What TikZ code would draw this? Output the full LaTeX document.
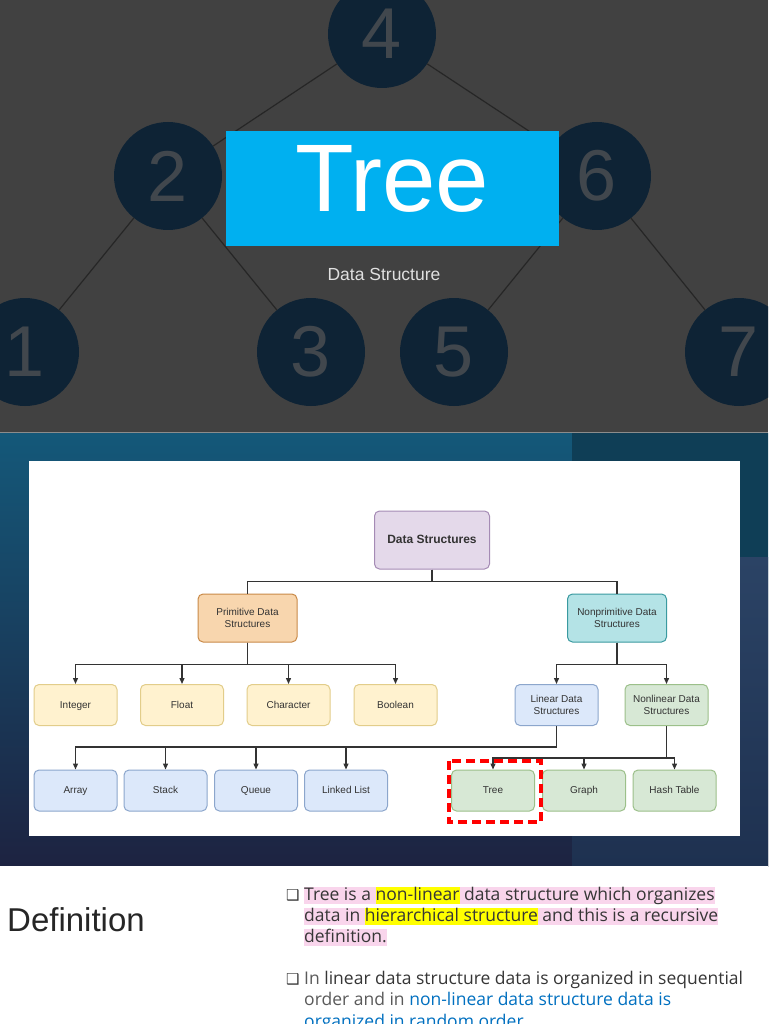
\documentclass[tikz,border=0pt]{standalone}
\usepackage{fontspec}
\setmainfont{Liberation Sans}
\newfontfamily\slidefont{Open Sans}
\newfontfamily\symbolfont{DejaVu Sans}
\usetikzlibrary{arrows.meta, positioning}
\definecolor{slidegrey}{HTML}{414141}
\definecolor{knotfill}{HTML}{0E2335}
\definecolor{knottext}{HTML}{41474D}
\definecolor{titleblue}{HTML}{00B0F0}
\definecolor{bgtop}{HTML}{145879}
\definecolor{bgmid}{HTML}{113B56}
\definecolor{bgbottom}{HTML}{1D2341}
\definecolor{bgright}{HTML}{0F3E56}
\definecolor{bgrighttop}{HTML}{2B4365}
\definecolor{bgrightbottom}{HTML}{1E3150}
\definecolor{purpleline}{HTML}{A58BB5}
\definecolor{purplefill}{HTML}{E4D9EA}
\definecolor{orangeline}{HTML}{C98A48}
\definecolor{orangefill}{HTML}{F8D6AE}
\definecolor{tealline}{HTML}{3A9AA0}
\definecolor{tealfill}{HTML}{B4E3E6}
\definecolor{yellowline}{HTML}{E2CD8A}
\definecolor{yellowfill}{HTML}{FFF2CF}
\definecolor{blueline}{HTML}{8CA6CC}
\definecolor{bluefill}{HTML}{DCE8FA}
\definecolor{greenline}{HTML}{9CC08A}
\definecolor{greenfill}{HTML}{D7E8D5}
\definecolor{cline}{HTML}{333333}
\definecolor{pinkhl}{HTML}{F9D5EC}
\definecolor{yellowhl}{HTML}{FFFF00}
\definecolor{textdark}{HTML}{363636}
\definecolor{textgrey}{HTML}{5A5A5A}
\definecolor{linkblue}{HTML}{0070C0}
\newcommand{\linestrut}{\rule[-4pt]{0pt}{17pt}}
\newcommand{\hl}[1]{{\setlength{\fboxsep}{0pt}\colorbox{yellowhl}{\linestrut#1}}}
\tikzset{
  knot/.style={circle, fill=knotfill, minimum size=108pt, inner sep=0pt, text=knottext, font=\fontsize{72}{72}\selectfont},
  branch/.style={draw=black!85, line width=1.2pt},
  box/.style={draw=#1line, fill=#1fill, rounded corners=5pt, align=center, inner sep=2pt, line width=1pt, font=\fontsize{10}{12}\selectfont, text=black!80},
  leaf/.style={box=#1, minimum width=83pt, minimum height=41pt},
  oneline/.style={text height=7.5pt, text depth=1.5pt},
  group/.style={box=#1, minimum width=99pt, minimum height=48pt},
  link/.style={draw=cline, line width=1.3pt},
  arrow/.style={link, -{Triangle[length=6pt, width=5pt]}},
  treemark/.style={draw=red, line width=3.2pt, dash pattern=on 9pt off 5pt},
  defline/.style={anchor=base west, inner sep=0pt, font=\slidefont\fontsize{17.5}{21}\selectfont, text=textdark},
}

\begin{document}
\begin{tikzpicture}[x=1pt, y=-1pt]
  \useasboundingbox (0,0) rectangle (768,1024);
  \clip (0,0) rectangle (768,1024);
  \fill[slidegrey] (0,0) rectangle (768,432);
  \node[knot] (n4) at (382,34) {4};
  \node[knot] (n2) at (168,176) {2};
  \node[knot] (n6) at (597,176) {6};
  \node[knot] (n1) at (25,352) {1};
  \node[knot] (n3) at (311,352) {3};
  \node[knot] (n5) at (454,352) {5};
  \node[knot] (n7) at (739,352) {7};
  \draw[branch] (n4) -- (n2); \draw[branch] (n4) -- (n6);
  \draw[branch] (n2) -- (n1); \draw[branch] (n2) -- (n3);
  \draw[branch] (n6) -- (n5); \draw[branch] (n6) -- (n7);
  \node[fill=titleblue, inner sep=0pt, minimum width=333pt, text height=81pt, text depth=34pt, text=white, font=\fontsize{96}{96}\selectfont] (title) at (392,188.5) {Tree};
  \node[text=white!88!black, font=\fontsize{17.5}{17.5}\selectfont] (subtitle) at (384,274) {Data Structure};

  \shade[top color=bgtop, middle color=bgmid, bottom color=bgbottom] (0,433) rectangle (768,866);
  \fill[bgright] (572,433) rectangle (768,557);
  \shade[top color=bgrighttop, bottom color=bgrightbottom] (572,557) rectangle (768,866);
  \draw[black!45, line width=1.5pt] (0,432.5) -- (768,432.5);
  \fill[white] (29,461) rectangle (740,836);

  \node[box=purple, oneline, minimum width=115pt, minimum height=58pt, font=\bfseries\fontsize{12}{14}\selectfont] (ds) at (432,540) {Data Structures};
  \node[group=orange] (prim) at (247.5,618) {Primitive Data\\Structures};
  \node[group=teal] (nonprim) at (617,618) {Nonprimitive Data\\Structures};
  \node[leaf=yellow, oneline] (int) at (75.5,705) {Integer};
  \node[leaf=yellow, oneline] (flt) at (182,705) {Float};
  \node[leaf=yellow, oneline] (chr) at (288.5,705) {Character};
  \node[leaf=yellow, oneline] (bool) at (395.5,705) {Boolean};
  \node[leaf=blue] (lin) at (556.5,705) {Linear Data\\Structures};
  \node[leaf=green] (nonlin) at (666.5,705) {Nonlinear Data\\Structures};
  \node[leaf=blue, oneline] (arr) at (75.5,790.5) {Array};
  \node[leaf=blue, oneline] (stk) at (165.5,790.5) {Stack};
  \node[leaf=blue, oneline] (que) at (256,790.5) {Queue};
  \node[leaf=blue, oneline] (llist) at (346,790.5) {Linked List};
  \node[leaf=green, oneline] (tree) at (493,790.5) {Tree};
  \node[leaf=green, oneline] (graph) at (584,790.5) {Graph};
  \node[leaf=green, oneline] (hash) at (674.5,790.5) {Hash Table};
  \draw[link] (ds.south) -- ++(0,12) -| (prim.north); \draw[link] (ds.south) -- ++(0,12) -| (nonprim.north);
  \draw[arrow] (prim.south) -- ++(0,22) -| (int.north); \draw[arrow] (prim.south) -- ++(0,22) -| (flt.north);
  \draw[arrow] (prim.south) -- ++(0,22) -| (chr.north); \draw[arrow] (prim.south) -- ++(0,22) -| (bool.north);
  \draw[arrow] (nonprim.south) -- ++(0,22) -| (lin.north); \draw[arrow] (nonprim.south) -- ++(0,22) -| (nonlin.north);
  \draw[arrow] (lin.south) -- ++(0,21) -| (arr.north); \draw[arrow] (lin.south) -- ++(0,21) -| (stk.north);
  \draw[arrow] (lin.south) -- ++(0,21) -| (que.north); \draw[arrow] (lin.south) -- ++(0,21) -| (llist.north);
  \draw[arrow] (nonlin.south) -- ++(0,32) -| (tree.north); \draw[arrow] (nonlin.south) -- ++(0,32) -| (graph.north);
  \draw[arrow] (nonlin.south) -- ++(0,32) -| (hash.north);
  \draw[treemark] (449,761) rectangle (541,822);

  \fill[white] (0,866) rectangle (768,1024);
  \node[anchor=base west, inner sep=0pt, font=\fontsize{33}{33}\selectfont, text=black!85] (defhead) at (7,931) {Definition};
  \node[anchor=base west, inner sep=0pt, font=\symbolfont\fontsize{15}{15}\selectfont, text=textdark] (b1) at (286,900) {❑};
  \node[defline, fill=pinkhl] (l1) at (304,900) {\linestrut Tree is a \hl{non-linear} data structure which organizes};
  \node[defline, fill=pinkhl] (l2) at (304,921) {\linestrut data in \hl{hierarchical structure} and this is a recursive};
  \node[defline, fill=pinkhl] (l3) at (304,942) {\linestrut definition.};
  \node[anchor=base west, inner sep=0pt, font=\symbolfont\fontsize{15}{15}\selectfont, text=textdark] (b2) at (286,984) {❑};
  \node[defline] (l4) at (304,984) {\linestrut\color{textgrey}In \color{textdark}linear data structure data is organized in sequential};
  \node[defline] (l5) at (304,1005) {\linestrut\color{textgrey}order and in \color{linkblue}non-linear data structure data is};
  \node[defline] (l6) at (304,1027) {\linestrut\color{linkblue}organized in random order.};
\end{tikzpicture}
\end{document}
